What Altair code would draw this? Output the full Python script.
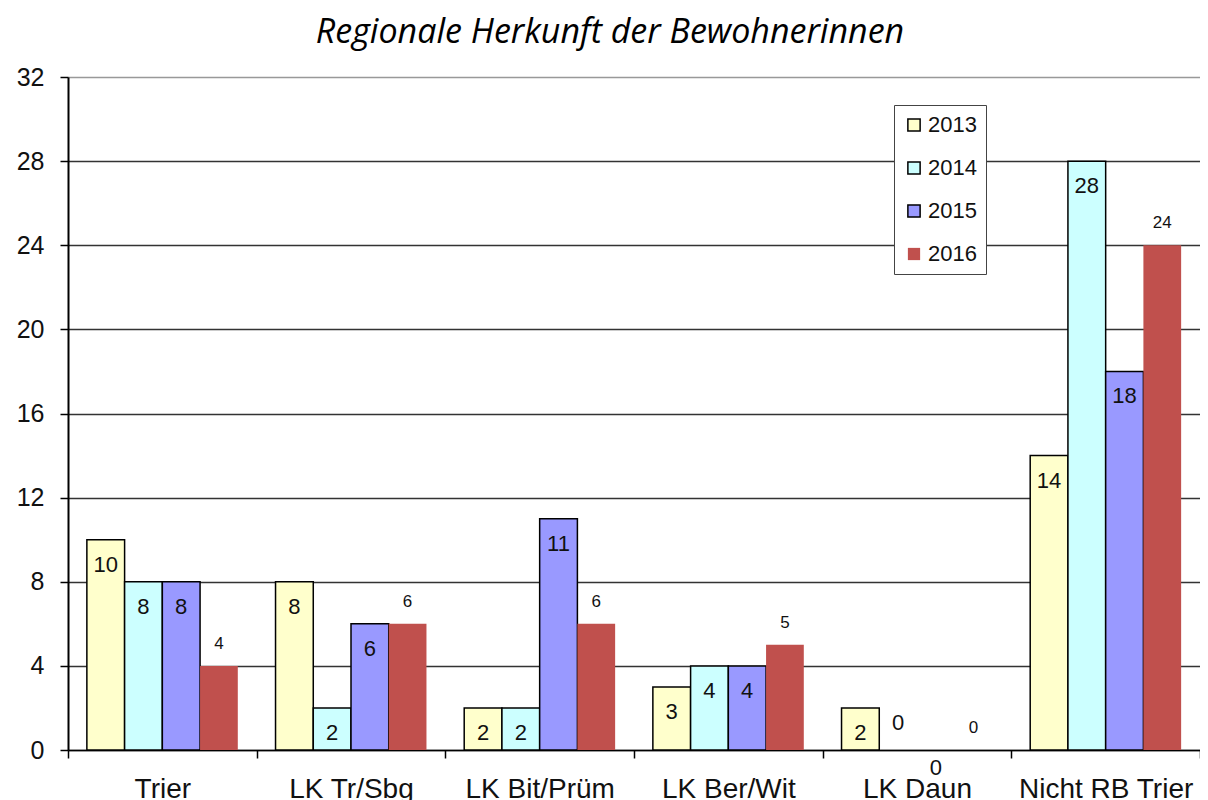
import altair as alt
import pandas as pd

regions = ["Trier", "LK Tr/Sbg", "LK Bit/Prüm", "LK Ber/Wit", "LK Daun", "Nicht RB Trier"]
years = ["2013", "2014", "2015", "2016"]
v2013 = [10, 8, 2, 3, 2, 14]
v2014 = [8, 2, 2, 4, 0, 28]
v2015 = [8, 6, 11, 4, 0, 18]
v2016 = [4, 6, 6, 5, 0, 24]
colors = ["#FFFFCC", "#CCFFFF", "#9999FF", "#C0504D"]
strokes = ["#000000", "#000000", "#000000", "rgba(0,0,0,0)"]
y_ticks = [0, 4, 8, 12, 16, 20, 24, 28, 32]

rows = []
for yr, vals in zip(years, [v2013, v2014, v2015, v2016]):
    for r, v in zip(regions, vals):
        rows.append({"Region": r, "Jahr": yr, "Wert": v})
df = pd.DataFrame(rows)

FONT = "Liberation Sans"

x_enc = alt.X("Region:N", sort=regions, title=None,
              scale=alt.Scale(paddingInner=0, paddingOuter=0),
              axis=alt.Axis(labelAngle=0, labelFontSize=28, labelFont=FONT, labelColor="#111111",
                            labelPadding=17, tickBand="extent", ticks=True, tickSize=8,
                            tickColor="#000000", tickWidth=1.5, domainColor="#000000",
                            domainWidth=1.5, grid=False, labelBaseline="top"))
xo_enc = alt.XOffset("Jahr:N", sort=years,
                     scale=alt.Scale(paddingOuter=0.5, paddingInner=0))
y_enc = alt.Y("Wert:Q", title=None,
              scale=alt.Scale(domain=[0, 32], nice=False),
              axis=alt.Axis(values=y_ticks, labelFontSize=25, labelFont=FONT, labelColor="#111111",
                            labelPadding=16, tickSize=8, tickColor="#000000", tickWidth=1.5,
                            domainColor="#000000", domainWidth=2, grid=True,
                            gridColor={"condition": {"test": "datum.value == 32", "value": "#999999"},
                                       "value": "#333333"},
                            gridWidth=1.5))

legend = alt.Legend(title=None, orient="none", legendX=826, legendY=28,
                    fillColor="white", strokeColor="#444444", padding=9,
                    symbolType="square", symbolSize=150, symbolStrokeWidth=1.5,
                    labelFontSize=22, labelFont=FONT, labelColor="#111111",
                    rowPadding=21, labelOffset=3)

base = alt.Chart(df)

bars = base.mark_bar(strokeWidth=1.5).encode(
    x=x_enc,
    xOffset=xo_enc,
    y=y_enc,
    fill=alt.Fill("Jahr:N", sort=years, scale=alt.Scale(domain=years, range=colors), legend=legend),
    stroke=alt.Stroke("Jahr:N", sort=years, scale=alt.Scale(domain=years, range=strokes), legend=legend),
).transform_filter("datum.Wert > 0")


def labels(filt, dy, size):
    return base.mark_text(baseline="middle", dy=dy, fontSize=size, font=FONT, color="#111111").encode(
        x=alt.X("Region:N", sort=regions),
        xOffset=alt.XOffset("Jahr:N", sort=years),
        y=alt.Y("Wert:Q"),
        text=alt.Text("Wert:Q"),
    ).transform_filter(filt)


inside = labels("datum.Jahr != '2016' && datum.Wert > 0", 25, 22)
zero_below = labels("datum.Jahr == '2015' && datum.Wert == 0", 18, 22)
zero_above = labels("datum.Jahr == '2014' && datum.Wert == 0", -27, 22)
above_small = labels("datum.Jahr == '2016'", -22, 17)

chart = alt.layer(bars, inside, zero_below, zero_above, above_small).properties(
    width=1132,
    height=673,
    autosize=alt.AutoSizeParams(type="none"),
    padding={"left": 60, "top": 69, "right": 0, "bottom": 52},
    title=alt.TitleParams("Regionale Herkunft der Bewohnerinnen", font="Open Sans", fontStyle="italic",
                          fontWeight="normal", fontSize=34, color="#000000", anchor="middle",
                          offset=15, dx=-24),
).configure_view(stroke="#999999", strokeWidth=1.5).configure(background="white")

chart.save("out.html", embed_options={"renderer": "svg", "actions": False})
